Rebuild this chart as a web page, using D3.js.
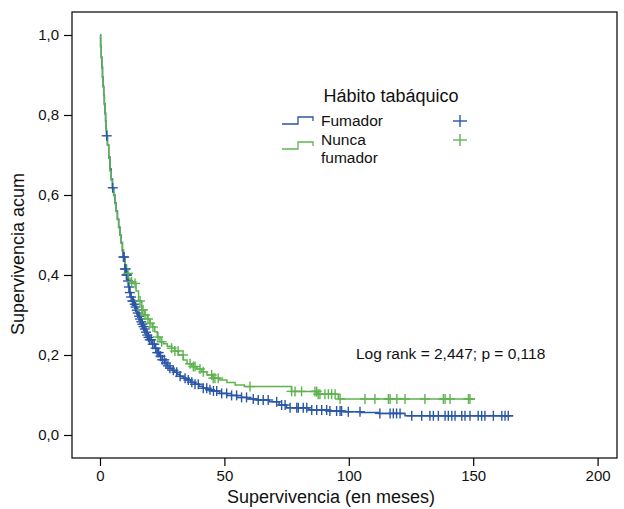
<!DOCTYPE html>
<html><head><meta charset="utf-8">
<script src="https://cdn.jsdelivr.net/npm/d3@7"></script>
<style>body{margin:0;background:#fff;} svg{display:block;font-family:"Liberation Sans",Arial,sans-serif;}</style>
</head><body>
<svg id="c" width="624" height="509"></svg>
<script>
// ---- data ----
const groupNames = ["Fumador", "Nunca\nfumador"];
const legendTitle = "Hábito tabáquico";
const statText = "Log rank = 2,447; p = 0,118";
const xTicks = [0, 50, 100, 150, 200];
const yTicks = [0, 0.2, 0.4, 0.6, 0.8, 1.0];
const xTitle = "Supervivencia (en meses)";
const yTitle = "Supervivencia acum";

// Fumador: [time, survival]
const fumadorCurve = [
  [0,1.0],[0.25,0.972],[0.5,0.945],[0.75,0.92],[1.0,0.895],[1.25,0.872],[1.5,0.85],[1.75,0.828],[2.0,0.805],
  [2.25,0.785],[2.45,0.765],[2.6,0.748],[3.0,0.725],[3.5,0.695],[4.0,0.665],[4.5,0.64],[5.0,0.618],
  [5.5,0.60],[6.0,0.58],[6.5,0.56],[7.0,0.54],[7.5,0.52],[8.0,0.50],[8.5,0.48],[9.0,0.46],[9.3,0.445],
  [10.0,0.415],[10.5,0.40],[11.0,0.385],[11.5,0.37],[12.0,0.356],[12.5,0.345],[13,0.335],[13.5,0.327],[14,0.32],
  [14.5,0.312],[15,0.305],[15.5,0.297],[16,0.29],[16.5,0.283],[17,0.277],[17.5,0.271],[18,0.265],[18.5,0.257],
  [19,0.25],[19.5,0.244],[20,0.238],[21,0.227],[22,0.217],[23,0.206],[24,0.197],[25,0.188],[26,0.18],[27,0.173],
  [28,0.167],[29,0.162],[30,0.157],[31,0.152],[32,0.147],[33.4,0.142],[34.8,0.1375],[36.4,0.132],[38,0.127],
  [39.8,0.122],[41.5,0.117],[43.2,0.113],[45,0.11],[48,0.104],[51,0.099],[55,0.094],[59,0.09],[63,0.0875],
  [68,0.083],[72,0.075],[75,0.068],[84,0.0625],[92,0.06],[97.7,0.058],[105,0.056],[112,0.054],[122.6,0.048],[166,0.048]
];
const fumadorCensored = [
  2.7,5.1,9.4,9.7,10.0,10.3,10.6,10.9,11.3,11.6,12.0,12.5,13.0,13.4,13.9,14.3,14.8,15.2,15.7,16.1,16.6,17.0,
  17.5,18.0,18.5,19.0,19.5,20.0,20.6,21.2,21.8,22.4,23.0,23.6,24.3,25.0,25.8,26.5,27.3,28.1,29.5,30.8,32.2,
  34.2,35.5,36.9,38.2,39.5,41.5,42.9,44.2,45.6,46.9,48.9,50.9,52.9,54.9,56.9,58.9,61.6,63.6,65.6,67.6,71,73,
  74.4,76.4,79.1,79.7,81.7,83.1,85.1,87.1,89.1,91.1,92.4,95.1,96.5,97.1,99.8,104.5,112.5,116.6,117.9,119.2,
  120.6,125.3,129.3,132.6,134,136,138.7,140,141.4,142.7,145.4,146.7,148.7,152,153.4,154.7,158.1,161.5,162.8,164.1
];

// Nunca fumador: [time, survival]
const nuncaCurve = [
  [0,1.0],[0.25,0.97],[0.5,0.942],[0.75,0.917],[1.0,0.892],[1.25,0.87],[1.5,0.848],[1.75,0.825],[2.0,0.802],
  [2.25,0.782],[2.5,0.76],[2.75,0.742],[3.0,0.725],[3.5,0.692],[4.0,0.66],[4.5,0.637],[5.0,0.615],
  [5.5,0.598],[6.0,0.578],[6.5,0.558],[7.0,0.538],[7.5,0.518],[8.0,0.50],[8.5,0.482],[9.0,0.463],[9.5,0.445],
  [10,0.425],[10.7,0.404],[11.5,0.39],[12.5,0.383],[13.4,0.379],[14.5,0.36],[15.5,0.335],[16.8,0.3125],
  [18,0.30],[19,0.29],[20.1,0.279],[21,0.27],[22,0.258],[23,0.245],[24.1,0.233],[25.5,0.228],[27,0.222],
  [28.8,0.217],[30,0.21],[31.5,0.2],[33.5,0.1875],[35,0.178],[36.9,0.171],[39,0.165],[40.9,0.158],[43,0.15],
  [45.5,0.142],[48.2,0.1375],[51,0.131],[54.3,0.125],[58,0.121],[77,0.109],[87.6,0.102],[95.8,0.09],[150.7,0.09]
];
const nuncaCensored = [
  11.3,12.7,14.1,16.1,16.8,17.3,18.1,19.3,20.1,21.3,23.3,24.8,28.8,30.1,31.4,33.4,36.2,37.5,38.2,40.2,41.5,
  44.9,45.5,46.2,47.5,60.3,77.0,78.4,81.0,86.4,87.1,87.7,88.4,90.4,91.8,93.1,94.5,96.5,106.5,110.5,115.9,116.6,
  119.3,122.6,130.6,138.0,138.7,140.7,148.1,148.7
];

// ---- drawing ----
const colors = ["#2a56a6", "#5fb34f"];
const frame = {left: 72, top: 12, right: 617, bottom: 458};
const svg = d3.select("#c");
const x = d3.scaleLinear().domain([0, 200]).range([100, 597.6]);
const y = d3.scaleLinear().domain([0, 1]).range([435, 35]);
const fmt = d => d3.format(".1f")(d).replace(".", ",");

svg.append("rect").attr("x", frame.left).attr("y", frame.top)
  .attr("width", frame.right - frame.left).attr("height", frame.bottom - frame.top)
  .attr("fill", "none").attr("stroke", "#000").attr("stroke-width", 1.2);

const yAxis = svg.append("g").attr("transform", `translate(${frame.left},0)`)
  .call(d3.axisLeft(y).tickValues(yTicks).tickFormat(fmt).tickSize(8).tickPadding(5));
const xAxis = svg.append("g").attr("transform", `translate(0,${frame.bottom})`)
  .call(d3.axisBottom(x).tickValues(xTicks).tickFormat(d3.format("d")).tickSize(8).tickPadding(4));
[yAxis, xAxis].forEach(g => {
  g.select(".domain").remove();
  g.selectAll("line").attr("stroke", "#000").attr("stroke-width", 1.2);
  g.selectAll("text").attr("font-size", 15).attr("fill", "#111").attr("font-family", "Liberation Sans, Arial, sans-serif");
});

svg.append("text").attr("x", 331).attr("y", 503).attr("text-anchor", "middle")
  .attr("font-size", 18).attr("fill", "#111").text(xTitle);
svg.append("text").attr("transform", "translate(24,254) rotate(-90)").attr("text-anchor", "middle")
  .attr("font-size", 18).attr("fill", "#111").text(yTitle);

const line = d3.line().x(d => x(d[0])).y(d => y(d[1])).curve(d3.curveStepAfter);
const series = [
  {curve: fumadorCurve, cens: fumadorCensored, color: colors[0]},
  {curve: nuncaCurve, cens: nuncaCensored, color: colors[1]}
];
series.forEach(s => {
  svg.append("path").datum(s.curve).attr("d", line)
    .attr("fill", "none").attr("stroke", s.color).attr("stroke-width", 1.5);
});
const bis = d3.bisector(d => d[0]).right;
series.forEach(s => {
  const g = svg.append("g").attr("stroke", s.color).attr("stroke-width", 1.4);
  s.cens.forEach(t => {
    const i = Math.max(0, bis(s.curve, t) - 1);
    const px = x(t), py = y(s.curve[i][1]);
    g.append("line").attr("x1", px - 5).attr("x2", px + 5).attr("y1", py).attr("y2", py);
    g.append("line").attr("x1", px).attr("x2", px).attr("y1", py - 5).attr("y2", py + 5);
  });
});

// legend
svg.append("text").attr("x", 391).attr("y", 101.5).attr("text-anchor", "middle")
  .attr("font-size", 18).attr("fill", "#111").text(legendTitle);
const legRows = [{yLow: 124, yHigh: 117, yEnd: 121, plusY: 121, textY: [126]},
                 {yLow: 149, yHigh: 142, yEnd: 146, plusY: 140, textY: [144.5, 163]}];
legRows.forEach((r, k) => {
  const c = colors[k];
  svg.append("path").attr("d", `M282,${r.yLow}H298V${r.yHigh}H313V${r.yEnd}`)
    .attr("fill", "none").attr("stroke", c).attr("stroke-width", 1.3);
  const lines = groupNames[k].split("\n");
  lines.forEach((ln, j) => {
    svg.append("text").attr("x", 321).attr("y", r.textY[j]).attr("font-size", 15.5)
      .attr("fill", "#111").text(ln);
  });
  svg.append("line").attr("x1", 453).attr("x2", 467).attr("y1", r.plusY).attr("y2", r.plusY).attr("stroke", c).attr("stroke-width", 1.4);
  svg.append("line").attr("x1", 460).attr("x2", 460).attr("y1", r.plusY - 6).attr("y2", r.plusY + 6).attr("stroke", c).attr("stroke-width", 1.4);
});

svg.append("text").attr("x", 356).attr("y", 358.5).attr("font-size", 15.5).attr("fill", "#111").text(statText);
</script>
</body></html>
